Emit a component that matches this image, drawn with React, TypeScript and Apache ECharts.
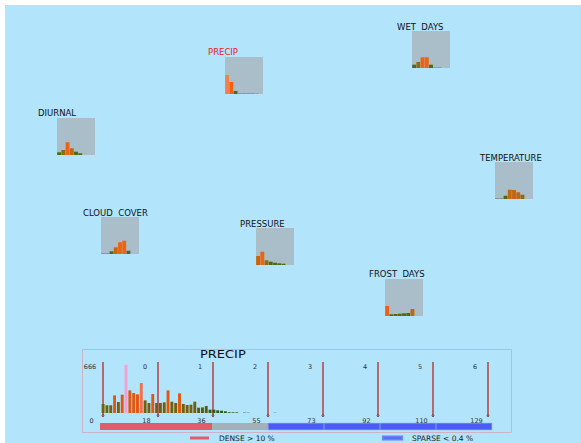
import { useEffect, useRef } from "react";
import * as echarts from "echarts";

// ---- data ---------------------------------------------------------------

// Overview histograms, one per climate variable (bar heights on a 0–37 scale)
const panelNames = ["PRECIP", "WET  DAYS", "DIURNAL", "TEMPERATURE", "CLOUD  COVER", "PRESSURE", "FROST  DAYS"];
const precipBins = [19, 12, 3, 0.6, 0.6, 0.6, 0.6, 0.4, 0];
const wetDaysBins = [3.3, 6, 10.7, 10.7, 3.3, 0.5, 0.5, 0, 0];
const diurnalBins = [2.7, 5, 12.7, 6.7, 3.3, 1.7, 0, 0, 0];
const temperatureBins = [0.7, 0.7, 3.3, 9.3, 9, 6.7, 4.3, 0, 0];
const cloudCoverBins = [0.6, 0.6, 2.7, 6.7, 11.7, 13.3, 3.3, 0, 0];
const pressureBins = [9, 13.3, 4.7, 3.3, 2.3, 1.7, 1.3, 0, 0];
const frostDaysBins = [10, 1.7, 2.0, 2.3, 2.7, 3.0, 7, 0, 0];
const panelBins = [precipBins, wetDaysBins, diurnalBins, temperatureBins, cloudCoverBins, pressureBins, frostDaysBins];
const highlightedPanel = "PRECIP";

// Detailed PRECIP histogram (counts per bin)
const detailTitle = "PRECIP";
const precipCounts = [
  125, 107, 107, 245, 153, 254, 666, 314, 277, 259,
  416, 175, 139, 263, 139, 139, 148, 314, 157, 139,
  273, 125, 111, 115, 157, 74, 78, 97, 46, 46,
  37, 32, 24, 10, 10, 9, 0, 5, 4, 0,
  0, 0, 0, 0, 0, 3,
];
const topTickLabels = ["0", "1", "2", "3", "4", "5", "6"];
const bottomTickLabels = ["0", "18", "36", "55", "73", "92", "110", "129"];

// Density band below the histogram
const bandWidths = [2, 1, 1, 1, 1, 1];
const bandClasses = ["dense", "medium", "sparse", "sparse", "sparse", "sparse"];
const denseLabel = "DENSE > 10 %";
const sparseLabel = "SPARSE < 0.4 %";

// ---- layout & style -----------------------------------------------------

const OFF = 5;
const W = 581 - OFF;
const H = 443 - OFF;
const px = (v: number) => v - OFF;
const FONT = "DejaVu Sans";

// square boxes (page coords) and title anchors for each overview panel
const panelBoxes = [
  { x: 225, y: 57, tx: 208, ty: 52 },
  { x: 412, y: 31, tx: 397, ty: 27 },
  { x: 57, y: 118, tx: 38, ty: 113 },
  { x: 495, y: 162, tx: 480, ty: 158 },
  { x: 101, y: 217, tx: 83, ty: 213 },
  { x: 256, y: 228, tx: 240, ty: 224 },
  { x: 385, y: 279, tx: 369, ty: 274 },
];
const PANEL_W = 38;
const PANEL_H = 37;

const classColor: Record<string, string> = {
  dense: "#e15c68",
  medium: "#a3b1ba",
  sparse: "#4a5cf2",
};
const classLegend: Record<string, string> = {
  dense: denseLabel,
  medium: "medium",
  sparse: sparseLabel,
};

function smallBarColor(v: number) {
  if (v >= 15) return "#f7804a";
  if (v >= 10) return "#f0620f";
  if (v >= 6.5) return "#c5650c";
  if (v >= 4) return "#8c6c0c";
  if (v >= 1) return "#4f6a12";
  return "#6d8070";
}

function countColor(v: number) {
  if (v >= 600) return "#f59fd3";
  if (v >= 350) return "#f2704c";
  if (v >= 230) return "#e2560f";
  if (v >= 100) return "#72600c";
  if (v >= 60) return "#5a5c0c";
  return "#2f5812";
}

function buildOption() {
  const peak = Math.max(...precipCounts);
  const grid: any[] = [];
  const xAxis: any[] = [];
  const yAxis: any[] = [];
  const series: any[] = [];
  const graphic: any[] = [];

  // overview panels
  panelBins.forEach((bins, i) => {
    const b = panelBoxes[i];
    grid.push({
      left: px(b.x),
      top: px(b.y),
      width: PANEL_W,
      height: PANEL_H,
      show: true,
      backgroundColor: "#a9bec9",
      borderWidth: 0,
    });
    xAxis.push({ gridIndex: i, type: "category", data: bins.map((_, k) => k), show: false });
    yAxis.push({ gridIndex: i, type: "value", min: 0, max: PANEL_H, show: false });
    series.push({
      type: "bar",
      xAxisIndex: i,
      yAxisIndex: i,
      data: bins,
      barCategoryGap: "8%",
      silent: true,
      itemStyle: { color: (p: any) => smallBarColor(p.value) },
    });
    graphic.push({
      type: "text",
      x: px(b.tx),
      y: px(b.ty),
      silent: true,
      style: {
        text: panelNames[i],
        font: `8.5px "${FONT}"`,
        fill: panelNames[i] === highlightedPanel ? "#e8202c" : "#111111",
        verticalAlign: "middle",
      },
    });
  });

  // detail panel: guide lines and tick labels
  const gLines = grid.length;
  grid.push({ left: px(103), top: px(362), width: 385, height: 55 });
  const xBottom = xAxis.length;
  xAxis.push({
    gridIndex: gLines,
    type: "value",
    min: 0,
    max: 7,
    interval: 1,
    position: "bottom",
    axisLine: { show: false },
    axisTick: { show: false },
    splitLine: { show: false },
    axisLabel: {
      margin: 0,
      fontSize: 6.5,
      fontFamily: FONT,
      color: "#333333",
      padding: [0, 23, 0, 0],
      showMinLabel: true,
      showMaxLabel: true,
      formatter: (v: number) => bottomTickLabels[Math.round(v)] ?? "",
    },
  });
  xAxis.push({
    gridIndex: gLines,
    type: "value",
    min: 0,
    max: 7,
    interval: 1,
    position: "top",
    axisLine: { show: false },
    axisTick: { show: false },
    splitLine: { show: false },
    axisLabel: {
      inside: true,
      margin: 1,
      fontSize: 6.5,
      fontFamily: FONT,
      color: "#333333",
      padding: [0, 26, 0, 0],
      showMinLabel: true,
      showMaxLabel: true,
      formatter: (v: number) => {
        const k = Math.round(v);
        return k === 0 ? String(peak) : topTickLabels[k - 1] ?? "";
      },
    },
  });
  const yLines = yAxis.length;
  yAxis.push({ gridIndex: gLines, type: "value", min: 0, max: 1, show: false });
  series.push({
    type: "custom",
    xAxisIndex: xBottom,
    yAxisIndex: yLines,
    silent: true,
    data: bottomTickLabels.map((_, k) => [k]),
    renderItem: (_params: any, api: any) => {
      const k = api.value(0);
      const top = api.coord([k, 1]);
      const bot = api.coord([k, 0]);
      const x = Math.round(top[0]);
      return {
        type: "group",
        children: [
          {
            type: "line",
            shape: { x1: x, y1: top[1], x2: x, y2: bot[1] },
            style: { stroke: "#bb3434", lineWidth: 1.4 },
          },
          {
            type: "circle",
            shape: { cx: x, cy: bot[1] - 1.5, r: 1.1 },
            style: { fill: "none", stroke: "#6e3a3a", lineWidth: 0.6 },
          },
        ],
      };
    },
  });

  // detail histogram bars
  const gBars = grid.length;
  const slot = 3.82;
  grid.push({ left: px(101.2), top: px(365), width: slot * precipCounts.length, height: 48 });
  const xBars = xAxis.length;
  xAxis.push({ gridIndex: gBars, type: "category", data: precipCounts.map((_, k) => k), show: false });
  const yBars = yAxis.length;
  yAxis.push({ gridIndex: gBars, type: "value", min: 0, max: peak, show: false });
  series.push({
    type: "bar",
    xAxisIndex: xBars,
    yAxisIndex: yBars,
    data: precipCounts,
    barCategoryGap: "24%",
    silent: true,
    itemStyle: { color: (p: any) => countColor(p.value) },
  });

  // density band
  const gBand = grid.length;
  const bandTotal = bandWidths.reduce((a, b) => a + b, 0);
  grid.push({ left: px(100), top: px(423), width: 392, height: 7 });
  const xBand = xAxis.length;
  xAxis.push({ gridIndex: gBand, type: "value", min: 0, max: bandTotal, show: false });
  const yBand = yAxis.length;
  yAxis.push({ gridIndex: gBand, type: "category", data: ["band"], show: false });
  bandWidths.forEach((w, i) => {
    const cls = bandClasses[i];
    series.push({
      type: "bar",
      name: classLegend[cls],
      xAxisIndex: xBand,
      yAxisIndex: yBand,
      stack: "band",
      data: [w],
      barWidth: "100%",
      silent: true,
      itemStyle: {
        color: classColor[cls],
        borderColor: cls === "sparse" ? "#6f7ff5" : classColor[cls],
        borderWidth: cls === "sparse" ? 0.6 : 0,
      },
    });
  });

  // detail panel frame and title
  graphic.push({
    type: "rect",
    silent: true,
    shape: { x: px(82) + 0.5, y: px(349) + 0.5, width: 429, height: 83 },
    style: { fill: "none", stroke: "#cdb3c8", lineWidth: 1 },
  });
  graphic.push({
    type: "text",
    x: px(200),
    y: px(355),
    scaleX: 1.3,
    silent: true,
    style: { text: detailTitle, font: `10px "${FONT}"`, fill: "#111111", verticalAlign: "middle" },
  });

  const legendBase = {
    orient: "horizontal",
    icon: "rect",
    padding: 0,
    itemWidth: 19,
    itemHeight: 3,
    selectedMode: false,
    textStyle: { fontSize: 7.5, fontFamily: FONT, color: "#222222", padding: [0, 0, 0, 5] },
  };

  return {
    animation: false,
    backgroundColor: "#b2e4fb",
    grid,
    xAxis,
    yAxis,
    series,
    graphic,
    legend: [
      { ...legendBase, data: [denseLabel], left: px(190), top: px(434) },
      { ...legendBase, data: [sparseLabel], left: px(382), top: px(434) },
    ],
  };
}

export default function App() {
  const ref = useRef<HTMLDivElement>(null);
  useEffect(() => {
    if (!ref.current) return;
    const chart = echarts.init(ref.current, null, { renderer: "svg" });
    chart.setOption(buildOption() as any);
    return () => chart.dispose();
  }, []);
  return (
    <div
      ref={ref}
      style={{ position: "absolute", left: OFF, top: OFF, width: W, height: H }}
    />
  );
}
